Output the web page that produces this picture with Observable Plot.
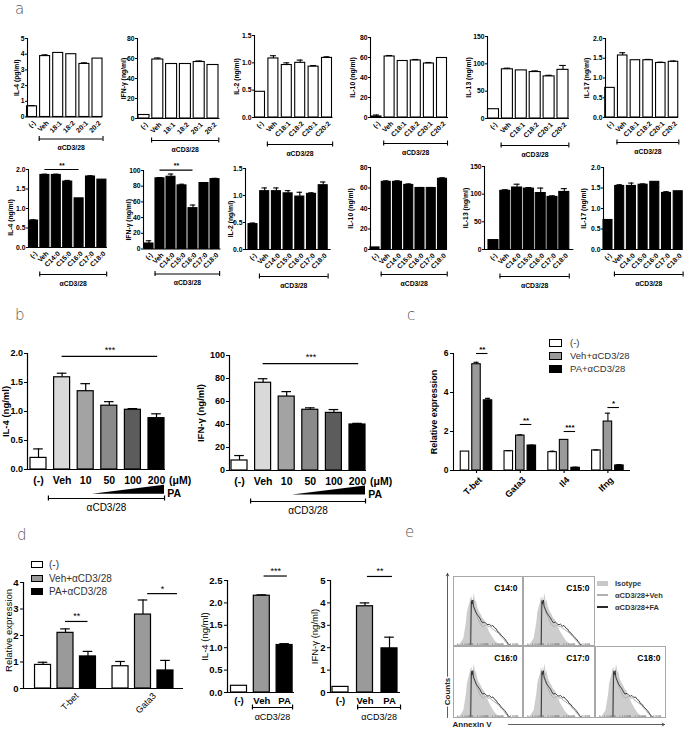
<!DOCTYPE html>
<html><head><meta charset="utf-8">
<script src="https://cdn.jsdelivr.net/npm/d3@7"></script>
<script src="https://cdn.jsdelivr.net/npm/@observablehq/plot@0.6"></script>
<style>
body{margin:0;background:#fff;}
#fig{position:relative;width:685px;height:729px;overflow:hidden;background:#fff;font-family:"Liberation Sans",Arial,sans-serif;}
.letter{position:absolute;font-family:"DejaVu Sans",sans-serif;font-weight:200;font-size:15px;line-height:15px;color:#555;}
.leg{position:absolute;color:#333;white-space:nowrap;}
.leg .row{display:flex;align-items:center;}
.leg .sw{display:inline-block;box-sizing:border-box;}
</style></head><body><div id="fig"></div>
<script>
// ---------- DATA ----------
// Panel a, top row (unsaturated FA)
const aTopLabelsShort = ["(-)", "Veh", "18:1", "18:2", "20:1", "20:2"];
const aTopLabelsC = ["(-)", "Veh", "C18:1", "C18:2", "C20:1", "C20:2"];
const aIL4Top = [0.68, 3.88, 4.08, 4.0, 3.38, 3.72];
const aIL4TopErr = [0.05, 0.08, 0, 0, 0.07, 0];
const aIFNTop = [3.5, 59, 54.5, 54.5, 56.5, 53.5];
const aIFNTopErr = [0, 1.5, 0, 0, 1, 0];
const aIL2Top = [0.47, 1.08, 0.96, 1.0, 0.93, 1.09];
const aIL2TopErr = [0, 0.05, 0.04, 0.05, 0.02, 0.02];
const aIL10Top = [1, 61, 56.5, 57, 54, 59.5];
const aIL10TopErr = [1.5, 1, 0, 1, 1, 0];
const aIL13Top = [17, 90, 88, 85, 77, 89];
const aIL13TopErr = [0, 2, 0, 2, 2, 8];
const aIL17Top = [0.75, 1.57, 1.45, 1.45, 1.38, 1.41];
const aIL17TopErr = [0, 0.07, 0, 0.02, 0.02, 0.02];
// Panel a, bottom row (saturated FA)
const aBotLabels = ["(-)", "Veh", "C14:0", "C15:0", "C16:0", "C17:0", "C18:0"];
const aIL4Bot = [0.69, 1.86, 1.86, 1.69, 1.26, 1.82, 1.74];
const aIL4BotErr = [0.02, 0.02, 0.02, 0.03, 0, 0.02, 0];
const aIFNBot = [7, 90, 92, 81, 52, 84, 89];
const aIFNBotErr = [3.5, 1, 3.5, 1.5, 4, 0, 1];
const aIL2Bot = [0.47, 1.08, 1.08, 1.04, 0.98, 1.03, 1.19];
const aIL2BotErr = [0.02, 0.06, 0.06, 0.05, 0.08, 0.02, 0.06];
const aIL10Bot = [2, 66, 66, 63, 60, 60, 69];
const aIL10BotErr = [0, 1, 1, 1, 0.5, 0.5, 1];
const aIL13Bot = [17, 106, 112, 110, 102, 95, 104];
const aIL13BotErr = [0, 2, 6, 2, 9, 2, 6];
const aIL17Bot = [0.72, 1.55, 1.55, 1.58, 1.65, 1.38, 1.42];
const aIL17BotErr = [0, 0.03, 0.07, 0.02, 0, 0.03, 0];
// Panel b
const bLabels = ["(-)", "Veh", "10", "50", "100", "200"];
const bIL4 = [0.2, 1.59, 1.35, 1.1, 1.03, 0.885];
const bIL4Err = [0.155, 0.07, 0.13, 0.07, 0.02, 0.075];
const bIFN = [8.7, 76.3, 64.3, 52.8, 50.1, 40];
const bIFNErr = [4.3, 3.5, 4.3, 1.7, 2.9, 1];
const bFills = ["#ffffff", "#d9d9d9", "#a3a3a3", "#8a8a8a", "#5c5c5c", "#000000"];
// Panel c
const cGenes = ["T-bet", "Gata3", "Il4", "Ifng"];
const cGroups = ["(-)", "Veh+αCD3/28", "PA+αCD3/28"];
const cFills = ["#ffffff", "#9a9a9a", "#000000"];
const cNeg = [0.97, 0.99, 0.94, 1.03];
const cNegErr = [0, 0.03, 0.05, 0.02];
const cVeh = [5.45, 1.79, 1.57, 2.51];
const cVehErr = [0.1, 0.04, 0, 0.43];
const cPA = [3.6, 1.28, 0.14, 0.26];
const cPAErr = [0.1, 0.02, 0.03, 0.04];
const cSig = ["**", "**", "***", "*"];
const cSigY = [6.0, 2.36, 2.0, 3.23];
// Panel d
const dGenes = ["T-bet", "Gata3"];
const dNeg = [0.89, 0.84];
const dNegErr = [0.1, 0.18];
const dVeh = [2.1, 2.79];
const dVehErr = [0.15, 0.55];
const dPA = [1.21, 0.68];
const dPAErr = [0.19, 0.38];
const dSig = ["**", "*"];
const dSigY = [2.53, 3.58];
const dLabels = ["(-)", "Veh", "PA"];
const dIL4 = [0.15, 2.16, 1.06];
const dIL4Err = [0, 0.02, 0.03];
const dIFN = [0.25, 3.85, 1.97];
const dIFNErr = [0, 0.15, 0.5];
const dFills = ["#ffffff", "#9a9a9a", "#000000"];
// Panel e (histograms, % of panel width / height)
const eTitles = ["C14:0", "C15:0", "C16:0", "C17:0", "C18:0"];
const eIsoX = [5, 10, 12, 15, 17, 19, 20, 22, 24, 25, 26, 27, 28, 29, 30, 31, 32, 33, 35, 36, 38, 40, 42, 45, 47, 50, 52, 55, 58, 60, 63, 67, 72];
const eIsoY = [0, 2, 5, 10, 22, 35, 47, 55, 62, 70, 66, 72, 60, 68, 75, 70, 62, 66, 55, 52, 48, 45, 40, 37, 30, 25, 20, 15, 10, 7, 4, 1, 0];
const eFAX = [25, 25.5, 26, 27, 28, 29, 31, 33, 35, 38, 40, 42, 45, 48, 50, 52, 55, 57, 60, 62, 64, 66, 69, 72, 74, 77, 79, 81, 83];
const eFAY = [0, 40, 65, 60, 66, 57, 52, 47, 44, 40, 36, 33, 34, 31, 30, 31, 28, 29, 25, 24, 20, 19, 15, 12, 10, 6, 3, 1, 0];
const eVehX = [24, 24.5, 25, 27, 29, 31, 33, 35, 38, 40, 43, 45, 48, 50, 53, 55, 58, 62, 65, 69, 72, 76, 79, 81];
const eVehY = [0, 45, 62, 58, 55, 50, 45, 40, 33, 30, 27, 29, 30, 27, 28, 25, 23, 20, 18, 13, 10, 5, 2, 0];

// ---------- HELPERS ----------
const fig = document.getElementById("fig");
const FONT = "'Liberation Sans', Arial, sans-serif";

function chart(c) {
  const mL = c.axisX - c.left, mT = c.yTopPx - c.top;
  const innerW = c.xEnd - c.axisX, innerH = c.yZeroPx - c.yTopPx;
  const width = Math.ceil(mL + innerW + (c.mR ?? 6));
  const height = Math.ceil(mT + innerH + (c.mB ?? 42));
  const mR = width - mL - innerW, mB = height - mT - innerH;
  const x0 = -(c.c0 - c.axisX) / c.step, x1 = x0 + innerW / c.step;
  const hb = c.bw / 2 / c.step, cap = hb * (c.capFrac ?? 0.6);
  const sw = c.sw ?? 1.1;
  const fs = c.fs, fw = c.fw ?? "bold";
  const withErr = c.bars.filter(d => d.e > 0);
  const marks = [
    Plot.rect(c.bars, {x1: d => d.x - hb, x2: d => d.x + hb, y1: 0, y2: "v", fill: "fill", stroke: "#000", strokeWidth: sw}),
    Plot.ruleX(withErr, {x: "x", y1: "v", y2: d => d.v + d.e, strokeWidth: sw}),
    Plot.ruleY(withErr, {y: d => d.v + d.e, x1: d => d.x - cap, x2: d => d.x + cap, strokeWidth: sw}),
    Plot.ruleX([x0], {y1: 0, y2: c.ymax, strokeWidth: sw}),
    Plot.ruleY([0], {x1: x0, x2: x1, strokeWidth: sw}),
    Plot.text([c.ylabel], {frameAnchor: "left", textAnchor: "middle", rotate: -90, dx: c.yldx, dy: c.yldy ?? 0, fontSize: c.ylfs ?? fs, fontWeight: c.ylfw ?? fw}),
    Plot.text(c.xlabels, {x: "x", y: 0, text: "text", rotate: c.rot ? -45 : 0, textAnchor: c.rot ? "end" : "middle",
      dx: c.ldx ?? 0, dy: c.ldy ?? 6, fontSize: c.lfs ?? fs, fontWeight: c.lfw ?? fw})
  ];
  if (c.bracket) {
    const b = c.bracket;
    marks.push(
      Plot.ruleY([0], {x1: b.x1, x2: b.x2, dy: b.dy, strokeWidth: sw}),
      Plot.ruleX([b.x1, b.x2], {y1: 0, y2: 0, dy: b.dy, insetTop: -2.5, insetBottom: -2.5, strokeWidth: sw}),
      Plot.text([b.text], {x: (b.x1 + b.x2) / 2, y: 0, dy: b.tdy, fontSize: b.fs ?? fs, fontWeight: b.fw ?? fw})
    );
  }
  for (const s of (c.sigs || [])) {
    marks.push(
      Plot.ruleY([s.y], {x1: s.x1, x2: s.x2, strokeWidth: sw}),
      Plot.text([s.text], {x: (s.x1 + s.x2) / 2, y: s.y, dy: s.dy ?? -4, fontSize: s.fs ?? fs, fontWeight: s.fw ?? fw})
    );
  }
  if (c.extra) marks.push(...c.extra);
  const svg = Plot.plot({
    width, height, marginLeft: mL, marginRight: mR, marginTop: mT, marginBottom: mB,
    x: {domain: [x0, x1], axis: null},
    y: {domain: [0, c.ymax], ticks: c.yticks, tickFormat: d3.format(c.fmt), tickSize: c.tickSize ?? 3, tickPadding: c.tickPad ?? 2, label: null},
    color: {type: "identity"},
    style: {position: "absolute", left: c.left + "px", top: c.top + "px", background: "none", overflow: "visible",
      font: `${c.tfw ?? fw} ${c.tfs ?? fs}px ${FONT}`, color: "#000"},
    marks
  });
  fig.appendChild(svg);
  return svg;
}

function simpleBars(values, errs, fills) {
  return values.map((v, i) => ({x: i, v, e: errs[i], fill: Array.isArray(fills) ? fills[i] : fills}));
}

function letter(t, left, top) {
  const d = document.createElement("div");
  d.className = "letter"; d.textContent = t;
  d.style.left = left + "px"; d.style.top = top + "px";
  fig.appendChild(d);
}

function legend(left, top, items, o) {
  const d = document.createElement("div");
  d.className = "leg";
  d.style.left = left + "px"; d.style.top = top + "px";
  d.style.font = `${o.fw || "normal"} ${o.fs}px ${FONT}`;
  for (const it of items) {
    const r = document.createElement("div");
    r.className = "row"; r.style.height = o.rowH + "px";
    const s = document.createElement("span");
    s.className = "sw";
    s.style.width = o.sw + "px"; s.style.height = (it.h ?? o.sh) + "px";
    s.style.background = it.fill;
    if (it.border !== false) s.style.border = "1.3px solid #000";
    s.style.marginRight = o.gap + "px";
    r.appendChild(s);
    const t = document.createElement("span");
    t.textContent = it.text;
    r.appendChild(t);
    d.appendChild(r);
  }
  fig.appendChild(d);
}

// ---------- PANEL LETTERS ----------
letter("a", 15, 2);
letter("b", 15, 308);
letter("c", 407, 308);
letter("d", 17, 528);
letter("e", 405, 525);

// ---------- PANEL a ----------
const topRow = [
  {axisX: 27, c0: 31.5, step: 13.1, bw: 10, yTopPx: 37.5, yZeroPx: 116, ymax: 5, yticks: [0, 1, 2, 3, 4, 5], fmt: "d", ylabel: "IL-4 (pg/ml)", yldx: -11, labels: aTopLabelsShort, values: aIL4Top, errs: aIL4TopErr, bdy: 22},
  {axisX: 137, c0: 143.5, step: 13.8, bw: 11, yTopPx: 38, yZeroPx: 118, ymax: 80, yticks: [0, 20, 40, 60, 80], fmt: "d", ylabel: "IFN-γ (ng/ml)", yldx: -14, labels: aTopLabelsShort, values: aIFNTop, errs: aIFNTopErr, bdy: 22},
  {axisX: 254, c0: 259.5, step: 13.4, bw: 10, yTopPx: 35, yZeroPx: 117, ymax: 1.5, yticks: [0, 0.5, 1, 1.5], fmt: ".1f", ylabel: "IL-2 (ng/ml)", yldx: -18, labels: aTopLabelsC, values: aIL2Top, errs: aIL2TopErr, bdy: 27},
  {axisX: 370, c0: 376, step: 13.1, bw: 10, yTopPx: 37, yZeroPx: 117, ymax: 80, yticks: [0, 20, 40, 60, 80], fmt: "d", ylabel: "IL-10 (ng/ml)", yldx: -18, labels: aTopLabelsC, values: aIL10Top, errs: aIL10TopErr, bdy: 26},
  {axisX: 487, c0: 493, step: 13.9, bw: 11, yTopPx: 36, yZeroPx: 118, ymax: 150, yticks: [0, 50, 100, 150], fmt: "d", ylabel: "IL-13 (ng/ml)", yldx: -19, labels: aTopLabelsC, values: aIL13Top, errs: aIL13TopErr, bdy: 27},
  {axisX: 605, c0: 609.5, step: 12.7, bw: 9.5, yTopPx: 38, yZeroPx: 117, ymax: 2, yticks: [0, 0.5, 1, 1.5, 2], fmt: ".1f", ylabel: "IL-17 (ng/ml)", yldx: -19, labels: aTopLabelsC, values: aIL17Top, errs: aIL17TopErr, bdy: 25}
];
const botRow = [
  {axisX: 28, c0: 33, step: 11.4, bw: 9, yTopPx: 169, yZeroPx: 247, ymax: 2, yticks: [0, 0.5, 1, 1.5, 2], fmt: ".1f", ylabel: "IL-4 (ng/ml)", yldx: -18, yldy: 9, values: aIL4Bot, errs: aIL4BotErr, bdy: 27, sig: {y: 2.0, text: "**"}},
  {axisX: 143, c0: 148.5, step: 11, bw: 9, yTopPx: 170, yZeroPx: 248.5, ymax: 100, yticks: [0, 20, 40, 60, 80, 100], fmt: "d", ylabel: "IFN-γ (ng/ml)", yldx: -15, yldy: 10, values: aIFNBot, errs: aIFNBotErr, bdy: 25, sig: {y: 100.5, text: "**"}},
  {axisX: 245, c0: 252.5, step: 11.7, bw: 9, yTopPx: 168, yZeroPx: 249, ymax: 1.5, yticks: [0, 0.5, 1, 1.5], fmt: ".1f", ylabel: "IL-2 (ng/ml)", yldx: -15, yldy: 10, values: aIL2Bot, errs: aIL2BotErr, bdy: 27},
  {axisX: 370, c0: 374.5, step: 11.25, bw: 9, yTopPx: 167, yZeroPx: 249, ymax: 80, yticks: [0, 20, 40, 60, 80], fmt: "d", ylabel: "IL-10 (ng/ml)", yldx: -20, yldy: 0, values: aIL10Bot, errs: aIL10BotErr, bdy: 25},
  {axisX: 484, c0: 493, step: 11.8, bw: 10, yTopPx: 166, yZeroPx: 249, ymax: 150, yticks: [0, 50, 100, 150], fmt: "d", ylabel: "IL-13 (ng/ml)", yldx: -19, yldy: 0, values: aIL13Bot, errs: aIL13BotErr, bdy: 27},
  {axisX: 603, c0: 607.5, step: 11.7, bw: 9, yTopPx: 167, yZeroPx: 249, ymax: 2, yticks: [0, 0.5, 1, 1.5, 2], fmt: ".1f", ylabel: "IL-17 (ng/ml)", yldx: -20, yldy: 0, values: aIL17Bot, errs: aIL17BotErr, bdy: 25}
];
function rowChart(cfg, labels, fill) {
  const n = labels.length;
  chart({
    ...cfg, left: cfg.axisX - 30, top: cfg.yTopPx - 12,
    xEnd: cfg.c0 + (n - 1) * cfg.step + (cfg.c0 - cfg.axisX) + 0.5,
    bars: simpleBars(cfg.values, cfg.errs, fill),
    xlabels: labels.map((t, i) => ({x: i, text: t})),
    rot: true, ldx: 2.5, ldy: 5, fs: 6.8, tickSize: 2, tickPad: 1, mR: 4, mB: 42,
    bracket: {x1: 0.55, x2: n - 1 + 0.42, dy: cfg.bdy, tdy: cfg.bdy + 9, text: "αCD3/28"},
    sigs: cfg.sig ? [{x1: 1, x2: 4, y: cfg.sig.y, text: cfg.sig.text, dy: -4}] : []
  });
}
topRow.forEach(cfg => rowChart(cfg, cfg.labels, "#ffffff"));
botRow.forEach(cfg => rowChart(cfg, aBotLabels, "#000000"));

// ---------- PANEL b ----------
function bChart(cfg) {
  chart({
    ...cfg, bw: 16, step: 23.6, fs: 10, tfs: 9, tickSize: 3, tickPad: 1.5, ylfs: 9.5, mB: 46, mR: 32, sw: 1.2,
    bars: simpleBars(cfg.values, cfg.errs, bFills),
    xlabels: bLabels.map((t, i) => ({x: i, text: t})), rot: false, ldy: 11, lfs: 10.5,
    bracket: {x1: cfg.br[0], x2: cfg.br[1], dy: cfg.bdy, tdy: cfg.bdy + 9, text: "αCD3/28", fw: "normal", fs: 10},
    sigs: [{x1: 1, x2: 5.05, y: cfg.sigY, text: "***", dy: -6, fw: "normal", fs: 9}],
    extra: [
      Plot.text(["(μM)"], {x: 6, y: 0, dy: 11, fontSize: 10.5, fontWeight: "bold"}),
      Plot.text(["PA"], {x: 5.75, y: 0, dy: 24, fontSize: 10.5, fontWeight: "bold"}),
      Plot.areaY([{x: cfg.wedge[0], a: -0.213, b: -0.213}, {x: cfg.wedge[1], a: -0.213, b: -0.135}],
        {x: "x", y1: d => d.a * cfg.ymax, y2: d => d.b * cfg.ymax, fill: "#000"})
    ]
  });
}
bChart({left: 0, top: 339, axisX: 27, c0: 38, xEnd: 165, yTopPx: 353, yZeroPx: 469, ymax: 2, yticks: [0, 0.5, 1, 1.5, 2], fmt: ".1f",
  ylabel: "IL-4 (ng/ml)", yldx: -22, values: bIL4, errs: bIL4Err, br: [0.42, 5.34], bdy: 29, sigY: 1.95, wedge: [2.29, 5.34]});
bChart({left: 189, top: 341, axisX: 229, c0: 239, xEnd: 366, yTopPx: 355, yZeroPx: 470, ymax: 100, yticks: [0, 20, 40, 60, 80, 100], fmt: "d",
  ylabel: "IFN-γ (ng/ml)", yldx: -29, values: bIFN, errs: bIFNErr, br: [0.47, 5.34], bdy: 31, sigY: 93, wedge: [2.25, 5.34]});

// ---------- PANEL c ----------
const cOff = 0.263;
const cAll = [cNeg, cVeh, cPA], cAllErr = [cNegErr, cVehErr, cPAErr];
chart({
  left: 418, top: 339, axisX: 453, c0: 476, step: 43.8, bw: 8.5, xEnd: 630, yTopPx: 353, yZeroPx: 470, ymax: 6,
  yticks: [0, 2, 4, 6], fmt: "d", fs: 8.5, mB: 36, mR: 8, sw: 1.1,
  ylabel: "Relative expression", yldx: -19, ylfs: 9,
  bars: cGenes.flatMap((g, gi) => cAll.map((arr, j) => ({x: gi + (j - 1) * cOff, v: arr[gi], e: cAllErr[j][gi], fill: cFills[j]}))),
  xlabels: cGenes.map((t, i) => ({x: i, text: t})), rot: true, ldx: 4, ldy: 8, lfs: 9,
  sigs: cGenes.map((g, gi) => ({x1: gi, x2: gi + cOff, y: cSigY[gi], text: cSig[gi], dy: -4, fs: 8})),
  extra: [Plot.ruleX(cGenes.map((g, i) => i), {y1: 0, y2: 0, insetBottom: -3, strokeWidth: 1.1})]
});
legend(549, 336, cGroups.map((t, j) => ({fill: cFills[j], text: t})), {fs: 9.5, rowH: 13, sw: 13, sh: 8, gap: 8});

// ---------- PANEL d ----------
const dOff = 0.29;
const dAll = [dNeg, dVeh, dPA], dAllErr = [dNegErr, dVehErr, dPAErr];
chart({
  left: 0, top: 570, axisX: 23, c0: 65, step: 77.5, bw: 16, xEnd: 183, yTopPx: 582, yZeroPx: 688, ymax: 4,
  yticks: [0, 1, 2, 3, 4], fmt: "d", fs: 9.5, mB: 40, mR: 8, sw: 1.2,
  ylabel: "Relative expression", yldx: -15, yldy: -5, ylfs: 9.5, ylfw: "normal",
  bars: dGenes.flatMap((g, gi) => dAll.map((arr, j) => ({x: gi + (j - 1) * dOff, v: arr[gi], e: dAllErr[j][gi], fill: dFills[j]}))),
  xlabels: dGenes.map((t, i) => ({x: i + 0.15, text: t})), rot: true, ldx: 0, ldy: 6, lfs: 9, lfw: "normal",
  sigs: [
    {x1: 0, x2: dOff, y: dSigY[0], text: dSig[0], dy: -5, fw: "normal", fs: 9},
    {x1: 1.06, x2: 1.445, y: dSigY[1], text: dSig[1], dy: -5, fw: "normal", fs: 9}
  ]
});
legend(31, 558, cGroups.map((t, j) => ({fill: dFills[j], text: t})), {fs: 10, rowH: 13.5, sw: 12, sh: 7, gap: 6});

function dChart(cfg) {
  chart({
    ...cfg, top: 566, bw: 16, yTopPx: 580, yZeroPx: 692, fs: 9.5, mB: 34, mR: 6, sw: 1.2,
    ylfw: "normal",
    bars: simpleBars(cfg.values, cfg.errs, dFills),
    xlabels: dLabels.map((t, i) => ({x: i, text: t})), rot: false, ldy: 8, lfs: 9.5,
    bracket: {x1: cfg.br[0], x2: cfg.br[1], dy: 15, tdy: 25, text: "αCD3/28", fw: "normal", fs: 9},
    sigs: [{x1: 1.1, x2: 2.12, y: cfg.sigY, text: cfg.sig, dy: -5, fw: "normal", fs: 9}]
  });
}
dChart({left: 192, axisX: 227, c0: 238.5, step: 22.8, xEnd: 294, ymax: 2.5, yticks: [0, 0.5, 1, 1.5, 2, 2.5], fmt: ".1f",
  ylabel: "IL-4 (ng/ml)", yldx: -23, values: dIL4, errs: dIL4Err, br: [0.59, 2.35], sigY: 2.6, sig: "***"});
dChart({left: 300, axisX: 330, c0: 340, step: 24.5, xEnd: 400, ymax: 5, yticks: [0, 1, 2, 3, 4, 5], fmt: "d",
  ylabel: "IFN-γ (ng/ml)", yldx: -16, values: dIFN, errs: dIFNErr, br: [0.7, 2.45], sigY: 5.18, sig: "**"});

// ---------- PANEL e ----------
const eIso = eIsoX.map((x, i) => ({x, y: eIsoY[i]}));
const eFA = eFAX.map((x, i) => ({x, y: eFAY[i]}));
const eVeh = eVehX.map((x, i) => ({x, y: eVehY[i]}));
const eTicks = d3.range(0, 4).flatMap(dec => d3.range(1, 10).map(k => 6 + (dec + Math.log10(k)) * 22));
function ePanel(title, left, top, w, h) {
  const svg = Plot.plot({
    width: w, height: h, margin: 1,
    x: {domain: [0, 100], axis: null}, y: {domain: [0, 100], axis: null},
    style: {position: "absolute", left: left + "px", top: top + "px", background: "none", overflow: "visible", font: `bold 8.5px ${FONT}`},
    marks: [
      Plot.areaY(eIso, {x: "x", y: "y", fill: "#cdcdcd"}),
      Plot.line(eVeh, {x: "x", y: "y", stroke: "#b0b0b0", strokeWidth: 1}),
      Plot.line(eFA, {x: "x", y: "y", stroke: "#2a2a2a", strokeWidth: 0.9}),
      Plot.ruleX(eTicks, {y1: 0, y2: 2.5, stroke: "#777", strokeWidth: 0.6}),
      Plot.frame({stroke: "#a8a8a8", strokeWidth: 1}),
      Plot.text([title], {frameAnchor: "top-right", dx: -5, dy: 8, fontSize: 8.5, fontWeight: "bold"})
    ]
  });
  fig.appendChild(svg);
}
ePanel(eTitles[0], 452, 575, 71, 71);
ePanel(eTitles[1], 522, 575, 73, 71);
ePanel(eTitles[2], 452, 645, 71, 73);
ePanel(eTitles[3], 522, 645, 73, 73);
ePanel(eTitles[4], 594, 645, 72, 73);

const eAxes = Plot.plot({
  width: 240, height: 161, margin: 0,
  x: {type: "identity", axis: null}, y: {type: "identity", axis: null},
  style: {position: "absolute", left: "438px", top: "568px", background: "none", overflow: "visible", font: `bold 8px ${FONT}`},
  marks: [
    Plot.arrow([0], {x1: 9, y1: 149, x2: 9, y2: 5, headLength: 5, strokeWidth: 0.8, stroke: "#333"}),
    Plot.arrow([0], {x1: 70, y1: 156, x2: 226, y2: 156, headLength: 5, strokeWidth: 0.8, stroke: "#333"}),
    Plot.text(["Counts"], {x: 9, y: 123, rotate: -90, fontWeight: "bold", fontSize: 8, fill: "#222", stroke: "white", strokeWidth: 3}),
    Plot.text(["Annexin V"], {x: 14, y: 156, textAnchor: "start", fontWeight: "bold", fontSize: 8, fill: "#222"})
  ]
});
fig.appendChild(eAxes);
legend(597, 577, [
  {fill: "#c8c8c8", text: "Isotype", h: 5, border: false},
  {fill: "#b0b0b0", text: "αCD3/28+Veh", h: 1.5, border: false},
  {fill: "#2a2a2a", text: "αCD3/28+FA", h: 1.5, border: false}
], {fs: 7.5, fw: "bold", rowH: 12, sw: 11, sh: 5, gap: 7});
</script></body></html>
